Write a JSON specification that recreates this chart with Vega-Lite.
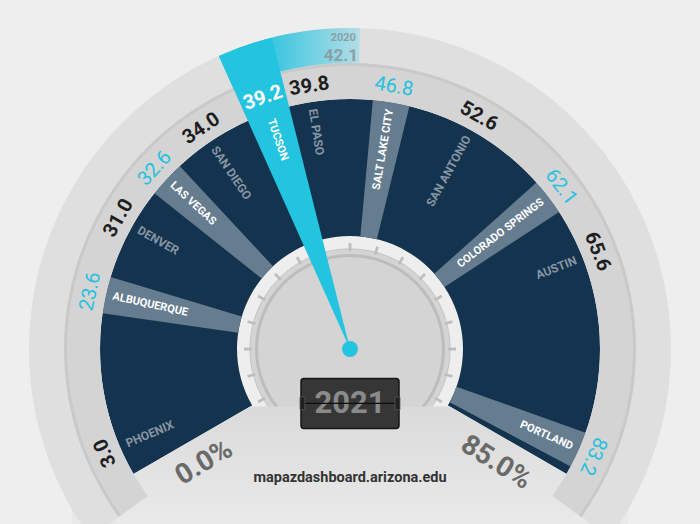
{
  "$schema": "https://vega.github.io/schema/vega-lite/v6.json",
  "width": 700,
  "height": 698,
  "autosize": {"type": "none"},
  "padding": 0,
  "background": "#eeeeee",
  "config": {"view": {"stroke": null}, "text": {"font": "Roboto, Liberation Sans, sans-serif"}},
  "datasets": {
    "cities": [
      {"city": "PHOENIX", "value": 3.0, "group": "peer"},
      {"city": "ALBUQUERQUE", "value": 23.6, "group": "highlight"},
      {"city": "DENVER", "value": 31.0, "group": "peer"},
      {"city": "LAS VEGAS", "value": 32.6, "group": "highlight"},
      {"city": "SAN DIEGO", "value": 34.0, "group": "peer"},
      {"city": "TUCSON", "value": 39.2, "group": "selected"},
      {"city": "EL PASO", "value": 39.8, "group": "peer"},
      {"city": "SALT LAKE CITY", "value": 46.8, "group": "highlight"},
      {"city": "SAN ANTONIO", "value": 52.6, "group": "peer"},
      {"city": "COLORADO SPRINGS", "value": 62.1, "group": "highlight"},
      {"city": "AUSTIN", "value": 65.6, "group": "peer"},
      {"city": "PORTLAND", "value": 83.2, "group": "highlight"}
    ],
    "gauge": [{"min": 0, "max": 85}],
    "ticks": [{"tick": 0}, {"tick": 1}, {"tick": 2}, {"tick": 3}, {"tick": 4}, {"tick": 5}, {"tick": 6}, {"tick": 7}, {"tick": 8}, {"tick": 9}, {"tick": 10}, {"tick": 11}, {"tick": 12}, {"tick": 13}, {"tick": 14}, {"tick": 15}, {"tick": 16}],
    "previous": [{"city": "TUCSON", "year": "2020", "value": 42.1, "current": 39.2}],
    "current": [{"year": "2021"}],
    "source": [{"site": "mapazdashboard.arizona.edu"}]
  },
  "resolve": {"scale": {"theta": "independent", "angle": "independent", "color": "independent"}},
  "layer": [
    {
      "data": {"name": "gauge"},
      "mark": {"type": "arc", "radius": 250, "radius2": 113, "color": "#13334f"},
      "encoding": {
        "theta": {"field": "min", "type": "quantitative", "stack": false, "scale": {"type": "linear", "domain": [0, 3, 23.6, 31, 32.6, 34, 39.2, 39.8, 42.1, 46.8, 52.6, 62.1, 65.6, 83.2, 85], "range": [-2.0944, -1.9722, -1.3526, -1.0559, -0.8238, -0.5934, -0.3334, -0.1536, -0.0559, 0.1658, 0.5061, 0.9163, 1.1956, 1.9862, 2.0944], "zero": false, "nice": false}},
        "theta2": {"field": "max"}
      }
    },
    {
      "data": {"name": "cities"},
      "transform": [{"filter": "datum.group == 'highlight'"}],
      "mark": {"type": "arc", "radius": 250, "radius2": 113, "color": "#667d90", "thetaOffset": -0.0742, "theta2Offset": 0.0742},
      "encoding": {
        "theta": {"field": "value", "type": "quantitative", "stack": false, "scale": {"type": "linear", "domain": [0, 3, 23.6, 31, 32.6, 34, 39.2, 39.8, 42.1, 46.8, 52.6, 62.1, 65.6, 83.2, 85], "range": [-2.0944, -1.9722, -1.3526, -1.0559, -0.8238, -0.5934, -0.3334, -0.1536, -0.0559, 0.1658, 0.5061, 0.9163, 1.1956, 1.9862, 2.0944], "zero": false, "nice": false}},
        "theta2": {"field": "value"}
      }
    },
    {
      "data": {"name": "gauge"},
      "mark": {"type": "point", "shape": "circle", "size": 40115, "filled": true, "opacity": 1, "fill": "#d4d4d4", "stroke": "#c4c4c4", "strokeWidth": 1},
      "encoding": {}
    },
    {
      "data": {"name": "gauge"},
      "mark": {"type": "point", "shape": "circle", "size": 34967, "filled": false, "opacity": 1, "stroke": "#bdbdbd", "strokeWidth": 3},
      "encoding": {}
    },
    {
      "data": {"name": "ticks"},
      "mark": {"type": "arc", "radius": 106, "radius2": 98, "color": "#bdbdbd", "thetaOffset": -0.013, "theta2Offset": 0.013},
      "encoding": {
        "theta": {"field": "tick", "type": "quantitative", "stack": false, "scale": {"type": "linear", "domain": [0, 16], "range": [-2.0944, 2.0944], "zero": false, "nice": false}},
        "theta2": {"field": "tick"}
      }
    },
    {
      "data": {"name": "gauge"},
      "mark": {"type": "point", "shape": "M-0.4,0.23L0.4,0.23L1.112,0.642L1.112,1.2L-1.112,1.2L-1.112,0.642Z", "size": 250000, "filled": true, "opacity": 1, "strokeWidth": 0,
        "fill": {"gradient": "linear", "x1": 0, "y1": 0, "x2": 0, "y2": 1, "stops": [{"offset": 0, "color": "#dadada"}, {"offset": 0.5, "color": "#eaeaea"}, {"offset": 1, "color": "#eeeeee"}]}},
      "encoding": {}
    },
    {
      "data": {"name": "gauge"},
      "mark": {"type": "arc", "radius": 321, "radius2": 284, "color": "#dfdfdf", "thetaOffset": -0.1047, "theta2Offset": 0.1047},
      "encoding": {
        "theta": {"field": "min", "type": "quantitative", "stack": false, "scale": {"type": "linear", "domain": [0, 3, 23.6, 31, 32.6, 34, 39.2, 39.8, 42.1, 46.8, 52.6, 62.1, 65.6, 83.2, 85], "range": [-2.0944, -1.9722, -1.3526, -1.0559, -0.8238, -0.5934, -0.3334, -0.1536, -0.0559, 0.1658, 0.5061, 0.9163, 1.1956, 1.9862, 2.0944], "zero": false, "nice": false}},
        "theta2": {"field": "max"}
      }
    },
    {
      "data": {"name": "gauge"},
      "mark": {"type": "arc", "radius": 284, "radius2": 250, "color": "#d4d4d4", "thetaOffset": -0.1047, "theta2Offset": 0.1047},
      "encoding": {
        "theta": {"field": "min", "type": "quantitative", "stack": false, "scale": {"type": "linear", "domain": [0, 3, 23.6, 31, 32.6, 34, 39.2, 39.8, 42.1, 46.8, 52.6, 62.1, 65.6, 83.2, 85], "range": [-2.0944, -1.9722, -1.3526, -1.0559, -0.8238, -0.5934, -0.3334, -0.1536, -0.0559, 0.1658, 0.5061, 0.9163, 1.1956, 1.9862, 2.0944], "zero": false, "nice": false}},
        "theta2": {"field": "max"}
      }
    },
    {
      "data": {"name": "gauge"},
      "mark": {"type": "arc", "radius": 286, "radius2": 283, "color": "#c9c9c9", "thetaOffset": -0.1047, "theta2Offset": 0.1047},
      "encoding": {
        "theta": {"field": "min", "type": "quantitative", "stack": false, "scale": {"type": "linear", "domain": [0, 3, 23.6, 31, 32.6, 34, 39.2, 39.8, 42.1, 46.8, 52.6, 62.1, 65.6, 83.2, 85], "range": [-2.0944, -1.9722, -1.3526, -1.0559, -0.8238, -0.5934, -0.3334, -0.1536, -0.0559, 0.1658, 0.5061, 0.9163, 1.1956, 1.9862, 2.0944], "zero": false, "nice": false}},
        "theta2": {"field": "max"}
      }
    },
    {
      "data": {"name": "previous"},
      "mark": {"type": "arc", "radius": 321, "radius2": 286, "thetaOffset": -0.0873, "theta2Offset": 0.0873,
        "color": {"gradient": "linear", "x1": 0, "y1": 0, "x2": 1, "y2": 0, "stops": [{"offset": 0, "color": "#2ac5e0"}, {"offset": 0.4, "color": "#3fc7e0"}, {"offset": 1, "color": "#b4dde5"}]}},
      "encoding": {
        "theta": {"field": "current", "type": "quantitative", "stack": false, "scale": {"type": "linear", "domain": [0, 3, 23.6, 31, 32.6, 34, 39.2, 39.8, 42.1, 46.8, 52.6, 62.1, 65.6, 83.2, 85], "range": [-2.0944, -1.9722, -1.3526, -1.0559, -0.8238, -0.5934, -0.3334, -0.1536, -0.0559, 0.1658, 0.5061, 0.9163, 1.1956, 1.9862, 2.0944], "zero": false, "nice": false}},
        "theta2": {"field": "value"}
      }
    },
    {
      "data": {"name": "cities"},
      "transform": [{"filter": "datum.group == 'selected'"}],
      "mark": {"type": "arc", "radius": 321, "radius2": 0, "color": "#22c4e0", "thetaOffset": -0.0873, "theta2Offset": 0.0873},
      "encoding": {
        "theta": {"field": "value", "type": "quantitative", "stack": false, "scale": {"type": "linear", "domain": [0, 3, 23.6, 31, 32.6, 34, 39.2, 39.8, 42.1, 46.8, 52.6, 62.1, 65.6, 83.2, 85], "range": [-2.0944, -1.9722, -1.3526, -1.0559, -0.8238, -0.5934, -0.3334, -0.1536, -0.0559, 0.1658, 0.5061, 0.9163, 1.1956, 1.9862, 2.0944], "zero": false, "nice": false}},
        "theta2": {"field": "value"}
      }
    },
    {
      "data": {"name": "gauge"},
      "mark": {"type": "point", "shape": "circle", "size": 254, "filled": true, "opacity": 1, "fill": "#22c4e0", "strokeWidth": 0},
      "encoding": {}
    },
    {
      "data": {"name": "current"},
      "mark": {"type": "point", "shape": "M-0.94,0.6H0.94Q1,0.6 1,0.66V1.56Q1,1.62 0.94,1.62H-0.94Q-1,1.62 -1,1.56V0.66Q-1,0.6 -0.94,0.6Z", "size": 9604, "filled": true, "opacity": 1, "fill": "#363636", "stroke": "#161616", "strokeWidth": 1.5},
      "encoding": {}
    },
    {
      "data": {"name": "current"},
      "mark": {"type": "text", "theta": 3.1416, "radius": 55, "align": "center", "baseline": "middle", "fontSize": 31, "fontWeight": "bold", "color": "#8a8a8a"},
      "encoding": {"text": {"field": "year", "type": "nominal"}}
    },
    {
      "data": {"name": "current"},
      "mark": {"type": "point", "shape": "M-1,1.11H1", "size": 9604, "filled": false, "opacity": 1, "stroke": "#0d0d0d", "strokeWidth": 1.2},
      "encoding": {}
    },
    {
      "data": {"name": "current"},
      "mark": {"type": "point", "shape": "M-1.02,0.98H-0.92V1.24H-1.02Z M0.92,0.98H1.02V1.24H0.92Z", "size": 9604, "filled": true, "opacity": 1, "fill": "#1f1f1f", "stroke": "#5a5a5a", "strokeWidth": 0.8},
      "encoding": {}
    },
    {
      "data": {"name": "source"},
      "mark": {"type": "text", "theta": 3.1416, "radius": 129, "align": "center", "baseline": "middle", "fontSize": 14.5, "fontWeight": "bold", "color": "#333333"},
      "encoding": {"text": {"field": "site", "type": "nominal"}}
    },
    {
      "data": {"name": "gauge"},
      "transform": [{"calculate": "format(datum.min, '.1f') + '%'", "as": "label"}],
      "mark": {"type": "text", "radius": 185, "thetaOffset": -0.1396, "angle": -31, "align": "center", "baseline": "middle", "fontSize": 28, "fontWeight": "bold", "color": "#6a6a6a"},
      "encoding": {
        "theta": {"field": "min", "type": "quantitative", "stack": false, "scale": {"type": "linear", "domain": [0, 3, 23.6, 31, 32.6, 34, 39.2, 39.8, 42.1, 46.8, 52.6, 62.1, 65.6, 83.2, 85], "range": [-2.0944, -1.9722, -1.3526, -1.0559, -0.8238, -0.5934, -0.3334, -0.1536, -0.0559, 0.1658, 0.5061, 0.9163, 1.1956, 1.9862, 2.0944], "zero": false, "nice": false}},
        "text": {"field": "label", "type": "nominal"}
      }
    },
    {
      "data": {"name": "gauge"},
      "transform": [{"calculate": "format(datum.max, '.1f') + '%'", "as": "label"}],
      "mark": {"type": "text", "radius": 185, "thetaOffset": 0.1396, "angle": 32, "align": "center", "baseline": "middle", "fontSize": 28, "fontWeight": "bold", "color": "#6a6a6a"},
      "encoding": {
        "theta": {"field": "max", "type": "quantitative", "stack": false, "scale": {"type": "linear", "domain": [0, 3, 23.6, 31, 32.6, 34, 39.2, 39.8, 42.1, 46.8, 52.6, 62.1, 65.6, 83.2, 85], "range": [-2.0944, -1.9722, -1.3526, -1.0559, -0.8238, -0.5934, -0.3334, -0.1536, -0.0559, 0.1658, 0.5061, 0.9163, 1.1956, 1.9862, 2.0944], "zero": false, "nice": false}},
        "text": {"field": "label", "type": "nominal"}
      }
    },
    {
      "data": {"name": "cities"},
      "transform": [{"filter": "datum.group != 'highlight'"}],
      "mark": {"type": "text", "radius": 266, "align": "center", "baseline": "middle", "fontSize": 20, "fontWeight": "bold"},
      "encoding": {
        "theta": {"field": "value", "type": "quantitative", "stack": false, "scale": {"type": "linear", "domain": [0, 3, 23.6, 31, 32.6, 34, 39.2, 39.8, 42.1, 46.8, 52.6, 62.1, 65.6, 83.2, 85], "range": [-2.0944, -1.9722, -1.3526, -1.0559, -0.8238, -0.5934, -0.3334, -0.1536, -0.0559, 0.1658, 0.5061, 0.9163, 1.1956, 1.9862, 2.0944], "zero": false, "nice": false}},
        "angle": {"field": "value", "type": "quantitative", "scale": {"type": "linear", "domain": [3, 23.6, 31, 32.6, 34, 39.2, 39.8, 46.8, 52.6, 62.1, 65.6, 83.2], "range": [-113, -77.5, -60.5, -47.2, -34, -19.1, -8.8, 9.5, 29, 52.5, 68.5, 113.8], "zero": false, "nice": false}},
        "color": {"field": "group", "type": "nominal", "scale": {"domain": ["peer", "selected"], "range": ["#1e1e1e", "#ffffff"]}, "legend": null},
        "text": {"field": "value", "type": "quantitative", "format": ".1f"}
      }
    },
    {
      "data": {"name": "cities"},
      "transform": [{"filter": "datum.group == 'highlight'"}],
      "mark": {"type": "text", "radius": 266, "align": "center", "baseline": "middle", "fontSize": 20, "fontWeight": "normal", "color": "#25c1de"},
      "encoding": {
        "theta": {"field": "value", "type": "quantitative", "stack": false, "scale": {"type": "linear", "domain": [0, 3, 23.6, 31, 32.6, 34, 39.2, 39.8, 42.1, 46.8, 52.6, 62.1, 65.6, 83.2, 85], "range": [-2.0944, -1.9722, -1.3526, -1.0559, -0.8238, -0.5934, -0.3334, -0.1536, -0.0559, 0.1658, 0.5061, 0.9163, 1.1956, 1.9862, 2.0944], "zero": false, "nice": false}},
        "angle": {"field": "value", "type": "quantitative", "scale": {"type": "linear", "domain": [3, 23.6, 31, 32.6, 34, 39.2, 39.8, 46.8, 52.6, 62.1, 65.6, 83.2], "range": [-113, -77.5, -60.5, -47.2, -34, -19.1, -8.8, 9.5, 29, 52.5, 68.5, 113.8], "zero": false, "nice": false}},
        "text": {"field": "value", "type": "quantitative", "format": ".1f"}
      }
    },
    {
      "data": {"name": "cities"},
      "transform": [{"filter": "datum.value < 41 && datum.group != 'peer'"}],
      "mark": {"type": "text", "radius": 243, "align": "left", "baseline": "middle", "fontSize": 11, "fontWeight": "bold", "color": "#ffffff"},
      "encoding": {
        "theta": {"field": "value", "type": "quantitative", "stack": false, "scale": {"type": "linear", "domain": [0, 3, 23.6, 31, 32.6, 34, 39.2, 39.8, 42.1, 46.8, 52.6, 62.1, 65.6, 83.2, 85], "range": [-2.0944, -1.9722, -1.3526, -1.0559, -0.8238, -0.5934, -0.3334, -0.1536, -0.0559, 0.1658, 0.5061, 0.9163, 1.1956, 1.9862, 2.0944], "zero": false, "nice": false}},
        "angle": {"field": "value", "type": "quantitative", "scale": {"type": "linear", "domain": [3, 23.6, 31, 32.6, 34, 39.2, 39.8], "range": [-23, 12.5, 29.5, 42.8, 56, 70.9, 81.2], "zero": false, "nice": false}},
        "text": {"field": "city", "type": "nominal"}
      }
    },
    {
      "data": {"name": "cities"},
      "transform": [{"filter": "datum.value < 41 && datum.group == 'peer'"}],
      "mark": {"type": "text", "radius": 243, "align": "left", "baseline": "middle", "fontSize": 12, "fontWeight": "bold", "color": "#8995a2"},
      "encoding": {
        "theta": {"field": "value", "type": "quantitative", "stack": false, "scale": {"type": "linear", "domain": [0, 3, 23.6, 31, 32.6, 34, 39.2, 39.8, 42.1, 46.8, 52.6, 62.1, 65.6, 83.2, 85], "range": [-2.0944, -1.9722, -1.3526, -1.0559, -0.8238, -0.5934, -0.3334, -0.1536, -0.0559, 0.1658, 0.5061, 0.9163, 1.1956, 1.9862, 2.0944], "zero": false, "nice": false}},
        "angle": {"field": "value", "type": "quantitative", "scale": {"type": "linear", "domain": [3, 23.6, 31, 32.6, 34, 39.2, 39.8], "range": [-23, 12.5, 29.5, 42.8, 56, 70.9, 81.2], "zero": false, "nice": false}},
        "text": {"field": "city", "type": "nominal"}
      }
    },
    {
      "data": {"name": "cities"},
      "transform": [{"filter": "datum.value > 41 && datum.group != 'peer'"}],
      "mark": {"type": "text", "radius": 243, "align": "right", "baseline": "middle", "fontSize": 11, "fontWeight": "bold", "color": "#ffffff"},
      "encoding": {
        "theta": {"field": "value", "type": "quantitative", "stack": false, "scale": {"type": "linear", "domain": [0, 3, 23.6, 31, 32.6, 34, 39.2, 39.8, 42.1, 46.8, 52.6, 62.1, 65.6, 83.2, 85], "range": [-2.0944, -1.9722, -1.3526, -1.0559, -0.8238, -0.5934, -0.3334, -0.1536, -0.0559, 0.1658, 0.5061, 0.9163, 1.1956, 1.9862, 2.0944], "zero": false, "nice": false}},
        "angle": {"field": "value", "type": "quantitative", "scale": {"type": "linear", "domain": [46.8, 52.6, 62.1, 65.6, 83.2], "range": [-80.5, -61, -37.5, -21.5, 23.8], "zero": false, "nice": false}},
        "text": {"field": "city", "type": "nominal"}
      }
    },
    {
      "data": {"name": "cities"},
      "transform": [{"filter": "datum.value > 41 && datum.group == 'peer'"}],
      "mark": {"type": "text", "radius": 243, "align": "right", "baseline": "middle", "fontSize": 12, "fontWeight": "bold", "color": "#8995a2"},
      "encoding": {
        "theta": {"field": "value", "type": "quantitative", "stack": false, "scale": {"type": "linear", "domain": [0, 3, 23.6, 31, 32.6, 34, 39.2, 39.8, 42.1, 46.8, 52.6, 62.1, 65.6, 83.2, 85], "range": [-2.0944, -1.9722, -1.3526, -1.0559, -0.8238, -0.5934, -0.3334, -0.1536, -0.0559, 0.1658, 0.5061, 0.9163, 1.1956, 1.9862, 2.0944], "zero": false, "nice": false}},
        "angle": {"field": "value", "type": "quantitative", "scale": {"type": "linear", "domain": [46.8, 52.6, 62.1, 65.6, 83.2], "range": [-80.5, -61, -37.5, -21.5, 23.8], "zero": false, "nice": false}},
        "text": {"field": "city", "type": "nominal"}
      }
    },
    {
      "data": {"name": "previous"},
      "mark": {"type": "text", "radius": 311, "thetaOffset": 0.075, "align": "right", "baseline": "middle", "fontSize": 11, "fontWeight": "bold", "color": "#8aa0a6"},
      "encoding": {
        "theta": {"field": "value", "type": "quantitative", "stack": false, "scale": {"type": "linear", "domain": [0, 3, 23.6, 31, 32.6, 34, 39.2, 39.8, 42.1, 46.8, 52.6, 62.1, 65.6, 83.2, 85], "range": [-2.0944, -1.9722, -1.3526, -1.0559, -0.8238, -0.5934, -0.3334, -0.1536, -0.0559, 0.1658, 0.5061, 0.9163, 1.1956, 1.9862, 2.0944], "zero": false, "nice": false}},
        "text": {"field": "year", "type": "nominal"}
      }
    },
    {
      "data": {"name": "previous"},
      "mark": {"type": "text", "radius": 293, "thetaOffset": 0.083, "align": "right", "baseline": "middle", "fontSize": 17, "fontWeight": "bold", "color": "#8aa0a6"},
      "encoding": {
        "theta": {"field": "value", "type": "quantitative", "stack": false, "scale": {"type": "linear", "domain": [0, 3, 23.6, 31, 32.6, 34, 39.2, 39.8, 42.1, 46.8, 52.6, 62.1, 65.6, 83.2, 85], "range": [-2.0944, -1.9722, -1.3526, -1.0559, -0.8238, -0.5934, -0.3334, -0.1536, -0.0559, 0.1658, 0.5061, 0.9163, 1.1956, 1.9862, 2.0944], "zero": false, "nice": false}},
        "text": {"field": "value", "type": "quantitative", "format": ".1f"}
      }
    }
  ]
}
